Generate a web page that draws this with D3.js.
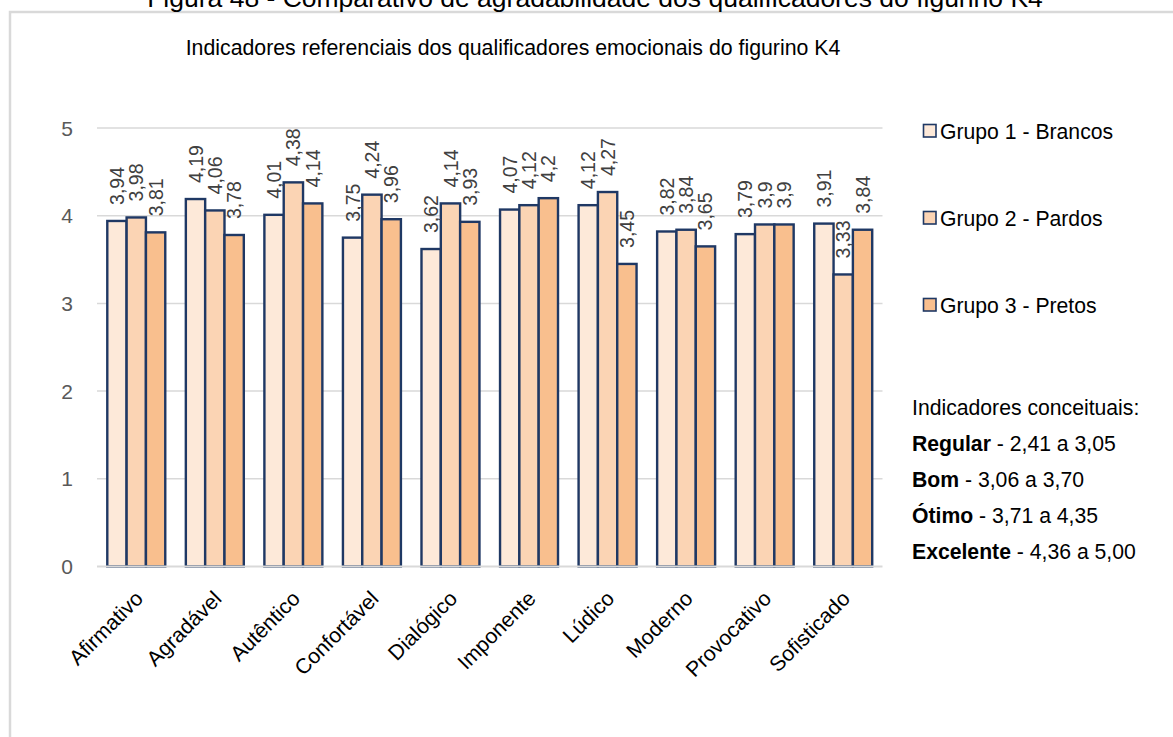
<!DOCTYPE html>
<html>
<head>
<meta charset="utf-8">
<script src="https://cdn.jsdelivr.net/npm/d3@7"></script>
<style>
  html, body { margin: 0; padding: 0; background: #fff; }
  svg { display: block; font-family: "Liberation Sans", Arial, sans-serif; }
</style>
</head>
<body>
<svg id="chart" width="1173" height="737"></svg>
<script>
const categories = ["Afirmativo","Agradável","Autêntico","Confortável","Dialógico","Imponente","Lúdico","Moderno","Provocativo","Sofisticado"];
const grupo1 = [3.94, 4.19, 4.01, 3.75, 3.62, 4.07, 4.12, 3.82, 3.79, 3.91];
const grupo2 = [3.98, 4.06, 4.38, 4.24, 4.14, 4.12, 4.27, 3.84, 3.90, 3.33];
const grupo3 = [3.81, 3.78, 4.14, 3.96, 3.93, 4.20, 3.45, 3.65, 3.90, 3.84];
const seriesNames = ["Grupo 1 - Brancos", "Grupo 2 - Pardos", "Grupo 3 - Pretos"];
const seriesColors = ["#FDE9D9", "#FBD4B4", "#F9BF8E"];
const yTicks = [0, 1, 2, 3, 4, 5];
const indicatorTitle = "Indicadores conceituais:";
const indicatorNames = ["Regular", "Bom", "Ótimo", "Excelente"];
const indicatorRanges = [" - 2,41 a 3,05", " - 3,06 a 3,70", " - 3,71 a 4,35", " - 4,36 a 5,00"];
const figTitle = "Figura 48 - Comparativo de agradabilidade dos qualificadores do figurino K4";
const chartTitle = "Indicadores referenciais dos qualificadores emocionais do figurino K4";

const series = [grupo1, grupo2, grupo3];
const fmt = v => String(v).replace(".", ",");

const svg = d3.select("#chart");

// outer chart frame (cut off at right and bottom)
svg.append("rect")
  .attr("x", 10).attr("y", 12).attr("width", 1300).attr("height", 900)
  .attr("fill", "#fff").attr("stroke", "#D9D9D9").attr("stroke-width", 2.5);

// figure caption (partly clipped at top)
svg.append("text")
  .attr("x", 595).attr("y", 6.5)
  .attr("text-anchor", "middle")
  .attr("font-size", 26.5)
  .attr("fill", "#000")
  .text(figTitle);

// chart title
svg.append("text")
  .attr("x", 513).attr("y", 54.5)
  .attr("text-anchor", "middle")
  .attr("font-size", 21.3)
  .attr("fill", "#000")
  .text(chartTitle);

const x = d3.scaleBand()
  .domain(categories)
  .range([97, 882.5])
  .paddingInner(0.262)
  .paddingOuter(0.131);

const y = d3.scaleLinear().domain([0, 5]).range([566.5, 128]);

// gridlines
svg.append("g")
  .selectAll("line")
  .data(yTicks.filter(t => t > 0))
  .join("line")
  .attr("x1", 97).attr("x2", 882.5)
  .attr("y1", d => y(d)).attr("y2", d => y(d))
  .attr("stroke", "#D9D9D9").attr("stroke-width", 1.5);

// y tick labels
svg.append("g")
  .selectAll("text")
  .data(yTicks)
  .join("text")
  .attr("x", 73).attr("y", d => y(d))
  .attr("dy", "0.36em")
  .attr("text-anchor", "end")
  .attr("font-size", 21)
  .attr("fill", "#595959")
  .text(d => d);

const bw = x.bandwidth() / 3;

// bars
series.forEach((vals, si) => {
  const g = svg.append("g");
  g.selectAll("rect")
    .data(categories.map((c, i) => ({ c, v: vals[i] })))
    .join("rect")
    .attr("x", d => x(d.c) + si * bw)
    .attr("y", d => y(d.v))
    .attr("width", bw)
    .attr("height", d => y(0) - y(d.v))
    .attr("fill", seriesColors[si])
    .attr("stroke", "#1F3864")
    .attr("stroke-width", 2.4);
});

// x axis line
svg.append("line")
  .attr("x1", 97).attr("x2", 882.5)
  .attr("y1", y(0)).attr("y2", y(0))
  .attr("stroke", "#D9D9D9").attr("stroke-width", 2);

// data labels
series.forEach((vals, si) => {
  svg.append("g")
    .selectAll("text")
    .data(categories.map((c, i) => ({ c, v: vals[i] })))
    .join("text")
    .attr("transform", d => `translate(${x(d.c) + si * bw + bw / 2},${y(d.v) - 16}) rotate(-90)`)
    .attr("dy", "0.36em")
    .attr("text-anchor", "start")
    .attr("font-size", 19.5)
    .attr("fill", "#404040")
    .text(d => fmt(d.v));
});

// x category labels
svg.append("g")
  .selectAll("text")
  .data(categories)
  .join("text")
  .attr("transform", d => `translate(${x(d) + x.bandwidth() / 2 + 8},${600}) rotate(-45)`)
  .attr("text-anchor", "end")
  .attr("font-size", 21.2)
  .attr("fill", "#000")
  .text(d => d);

// legend
const legendY = [131, 218, 305];
const lg = svg.append("g");
seriesNames.forEach((name, i) => {
  lg.append("rect")
    .attr("x", 923.5).attr("y", legendY[i] - 6.5)
    .attr("width", 12.5).attr("height", 12.5)
    .attr("fill", seriesColors[i])
    .attr("stroke", "#1F3864").attr("stroke-width", 1.6);
  lg.append("text")
    .attr("x", 940).attr("y", legendY[i])
    .attr("dy", "0.36em")
    .attr("font-size", 21.2)
    .attr("fill", "#000")
    .text(name);
});

// indicator block
const ig = svg.append("g").attr("font-size", 21.2).attr("fill", "#000");
ig.append("text").attr("x", 912).attr("y", 414.5).text(indicatorTitle);
indicatorNames.forEach((n, i) => {
  const t = ig.append("text").attr("x", 912).attr("y", 450.7 + i * 36.2);
  t.append("tspan").attr("font-weight", "bold").text(n);
  t.append("tspan").text(indicatorRanges[i]);
});
</script>
</body>
</html>
